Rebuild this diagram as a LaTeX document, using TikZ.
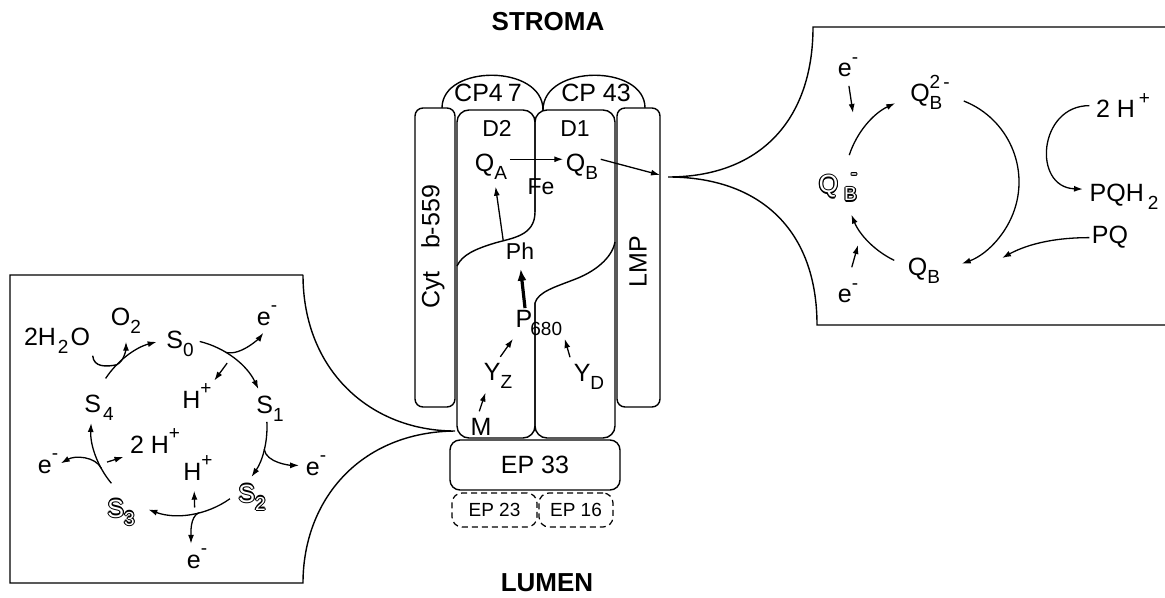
\documentclass[tikz,border=0pt]{standalone}
\usepackage{fontspec}
\setmainfont{Liberation Sans}
\usetikzlibrary{arrows.meta}
\newcommand\lo[1]{\raisebox{-0.32em}{\fontsize{9.5}{10}\selectfont #1}}
\newcommand\hi[1]{\raisebox{0.55em}{\fontsize{9.5}{10}\selectfont #1}}
\newcommand\hollow[1]{\leavevmode\rlap{\kern-.55pt#1}\rlap{\kern.55pt#1}\rlap{\raisebox{.55pt}{#1}}\rlap{\raisebox{-.55pt}{#1}}%
  \rlap{\kern-.4pt\raisebox{.4pt}{#1}}\rlap{\kern.4pt\raisebox{.4pt}{#1}}\rlap{\kern-.4pt\raisebox{-.4pt}{#1}}\rlap{\kern.4pt\raisebox{-.4pt}{#1}}%
  \textcolor{white}{#1}}
\tikzset{
  lbl/.style={font=\fontsize{12.5}{14}\selectfont, inner sep=1pt, anchor=base},
  sml/.style={font=\fontsize{11.5}{13}\selectfont, inner sep=1pt, anchor=base},
  pbox/.style={draw, rounded corners=4pt, line width=0.7pt, inner sep=0pt},
  epbox/.style={draw, dash pattern=on 3pt off 2pt, rounded corners=5pt, line width=0.6pt,
    inner sep=0pt, font=\fontsize{9.5}{11}\selectfont},
  arr/.style={-{Latex[length=4.5pt,width=3pt]}, line width=0.65pt},
  boldarr/.style={-{Latex[length=6pt,width=4.5pt]}, line width=1.6pt}
}
\begin{document}
\begin{tikzpicture}[x=0.5pt,y=-0.5pt,line width=0.7pt]
\useasboundingbox (0,0) rectangle (1165,598);
\draw (303,275) -- (10,275) -- (10,583) -- (303,583) .. controls (303,500) and (360,432) .. (455,431) .. controls (370,431) and (303,370) .. (303,275);
\draw (1165,27) -- (813,27) .. controls (813,120) and (760,177) .. (668,177) .. controls (760,177) and (817,230) .. (817,325) -- (1165,325);
\node[lbl, font=\bfseries\fontsize{13}{15}\selectfont, anchor=center] (stroma) at (548,22) {STROMA};
\node[lbl, font=\bfseries\fontsize{13}{15}\selectfont, anchor=center] (lumen) at (547,583) {LUMEN};
\node[pbox, minimum width=20pt, minimum height=149.5pt] (cyt) at (435,257.5) {};
\node[pbox, minimum width=21.5pt, minimum height=149.5pt] (lmp) at (638.5,257.5) {};
\node[lbl, rotate=90, anchor=center] (cytlbl) at (433,247) {Cyt\hspace{0.9em}b-559};
\node[lbl, rotate=90, anchor=center] (lmplbl) at (638,262) {LMP};
\draw[rounded corners=6pt] (535,212) -- (535,110) -- (457,110) -- (457,438) -- (535,438) -- (535,303);
\draw[rounded corners=6pt] (535,212) -- (535,110) -- (615,110) -- (615,438) -- (535,438) -- (535,303);
\draw (535,212) .. controls (535,236) and (512,238) .. (495,243) .. controls (475,249) and (462,255) .. (457,266);
\draw (535,303) .. controls (538,292) and (555,287) .. (573,280) .. controls (595,272) and (612,258) .. (615,242);
\draw (442,108) .. controls (442,64) and (543,64) .. (543,110);
\draw (543,110) .. controls (543,64) and (645,64) .. (645,108);
\node[pbox, rounded corners=5pt, minimum width=85pt, minimum height=25pt, font=\fontsize{12.5}{14}\selectfont] (ep33) at (535,465) {EP 33};
\node[epbox, minimum width=42.5pt, minimum height=17pt] (ep23) at (494.5,510) {EP 23};
\node[epbox, minimum width=37pt, minimum height=17pt] (ep16) at (576,510) {EP 16};
\node[lbl] (cpa) at (488,102) {CP4\hspace{2.5pt}7};
\node[lbl] (cpb) at (596,102) {CP 43};
\node[sml] (dtwo) at (497,137) {D2};
\node[sml] (done) at (575,137) {D1};
\node[lbl] (qa) at (491,172) {Q\lo{A}};
\node[lbl] (qb) at (582,172) {Q\lo{B}};
\node[sml] (fe) at (541,195) {Fe};
\node[sml] (ph) at (520,260) {Ph};
\node[lbl, anchor=base west] (p680) at (513,328) {P\kern-1pt\lo{680}};
\node[lbl] (yz) at (498,380) {Y\lo{Z}};
\node[lbl] (yd) at (589,381) {Y\lo{D}};
\node[lbl] (mn) at (481,435) {M};
\coordinate (qtip) at (660,175);
\draw[arr] ([yshift=4pt]qa.east) -- ([yshift=4pt]qb.west);
\draw[arr] ([yshift=4pt]qb.east) -- (qtip);
\draw[arr, shorten >=2pt] (ph.north west) -- ([xshift=2pt]qa.south);
\draw[boldarr, shorten >=3pt] ([xshift=6pt]p680.north west) -- (ph.south);
\draw[arr, shorten <=2pt] (yz.north) -- (p680.south west);
\draw[arr, shorten <=2pt] (yd.north west) -- (p680.south east);
\draw[arr, shorten <=2pt, shorten >=1pt] ([xshift=-1.5pt]mn.north) -- ([xshift=2.5pt]yz.south west);
\coordinate (lc) at (179,427);
\node[lbl] (s0) at (180,348) {S\lo{0}};
\node[lbl] (s1) at (270,413) {S\lo{1}};
\node[lbl] (s2) at (252,502) {\hollow{S}\lo{\hollow{2}}};
\node[lbl] (s3) at (121,517) {\hollow{S}\lo{\hollow{3}}};
\node[lbl] (s4) at (99,412) {S\hspace{1pt}\lo{4}};
\node[lbl] (h2o) at (57,345) {2H\hspace{1pt}\lo{2}\hspace{1pt}O};
\node[lbl] (o2) at (126,325) {O\lo{2}};
\node[lbl] (ee1) at (267,325) {e\hi{-}};
\node[lbl] (hp1) at (197,408) {H\hi{+}};
\node[lbl] (twoh) at (155,453) {2 H\hi{+}};
\node[lbl] (hp2) at (198,480) {H\hi{+}};
\node[lbl] (ee4) at (48,473) {e\hi{-}};
\node[lbl] (ee2) at (316,475) {e\hi{-}};
\node[lbl] (ee3) at (197,568) {e\hi{-}};
\draw[arr] ([shift={(213.5:88)}]lc) arc[start angle=213.5, end angle=255.3, radius=88];
\draw[arr] ([shift={(283.6:88)}]lc) arc[start angle=283.6, end angle=334.5, radius=88];
\draw[arr] ([shift={(356.7:88)}]lc) arc[start angle=356.7, end angle=394.6, radius=88];
\draw[arr] ([shift={(54.6:88)}]lc) arc[start angle=54.6, end angle=110.4, radius=88];
\draw[arr] ([shift={(140.2:88)}]lc) arc[start angle=140.2, end angle=182.6, radius=88];
\coordinate (jn0) at ([shift={(225:88)}]lc);
\draw (h2o.south east) .. controls +(1,12) and +(-10,2) .. (jn0);
\draw[arr, shorten >=3pt] (jn0) .. controls +(8,-4) and +(0,12) .. (o2.south);
\coordinate (jn1) at ([shift={(302:88)}]lc);
\draw[arr, shorten >=3pt] (jn1) .. controls +(16,4) and +(-6,8) .. (ee1.south);
\draw[arr] ([shift={(307:80)}]lc) -- (hp1.north east);
\coordinate (jn2) at ([shift={(14.6:88)}]lc);
\draw[arr, shorten >=2pt] (jn2) .. controls +(2,14) and +(-12,0) .. (ee2.west);
\coordinate (jn3) at ([shift={(77:88)}]lc);
\draw[arr, shorten >=1pt] (jn3) .. controls +(-9,4) and +(0,-12) .. ([xshift=-3pt]ee3.north);
\draw[arr, shorten >=4pt] ([shift={(79:82)}]lc) -- ([xshift=-2pt]hp2.south);
\coordinate (jn4) at ([shift={(152:88)}]lc);
\draw[arr] (jn4) .. controls +(-6,-12) and +(14,-8) .. (ee4.east);
\draw[arr, shorten >=2pt] ([shift={(154:80)}]lc) -- (twoh.south west);
\coordinate (rc) at (932,182);
\node[lbl] (ee5) at (848,77) {e\hi{-}};
\node[lbl] (qbtwo) at (930,102) {Q\rlap{\lo{B}}\hi{2\,-}};
\node[lbl] (twoh2) at (1123,118) {2 H\hspace{2pt}\hi{+}};
\node[lbl] (qbm) at (838,193) {\hollow{Q}\hspace{3pt}\lo{\hollow{B}}\hspace{-3pt}\hi{\hollow{-}}};
\node[lbl] (pqh) at (1124,202) {PQH\hspace{2pt}\lo{2}};
\node[lbl] (pq) at (1110,244) {PQ};
\node[lbl] (qbb) at (924,276) {Q\lo{B}};
\node[lbl] (ee6) at (848,303) {e\hi{-}};
\draw[arr] ([shift={(198:87)}]rc) arc[start angle=198, end angle=245, radius=87];
\draw[arr] ([shift={(291.4:87)}]rc) arc[start angle=291.4, end angle=430, radius=87];
\draw[arr] ([shift={(115.7:87)}]rc) arc[start angle=115.7, end angle=158, radius=87];
\coordinate (et1) at (853,113);
\coordinate (et2) at (858,245);
\coordinate (pqtip) at (1002,258);
\draw[arr, shorten <=3pt] (ee5.south) -- (et1);
\draw[arr, shorten <=7pt] (ee6.north) -- (et2);
\draw[arr, shorten <=2pt, shorten >=2pt] (twoh2.west) .. controls +(-55,0) and +(-55,-2) .. ([yshift=4pt]pqh.west);
\draw[arr] (pq.west) .. controls +(-40,0) and +(22,-12) .. (pqtip);
\end{tikzpicture}
\end{document}
